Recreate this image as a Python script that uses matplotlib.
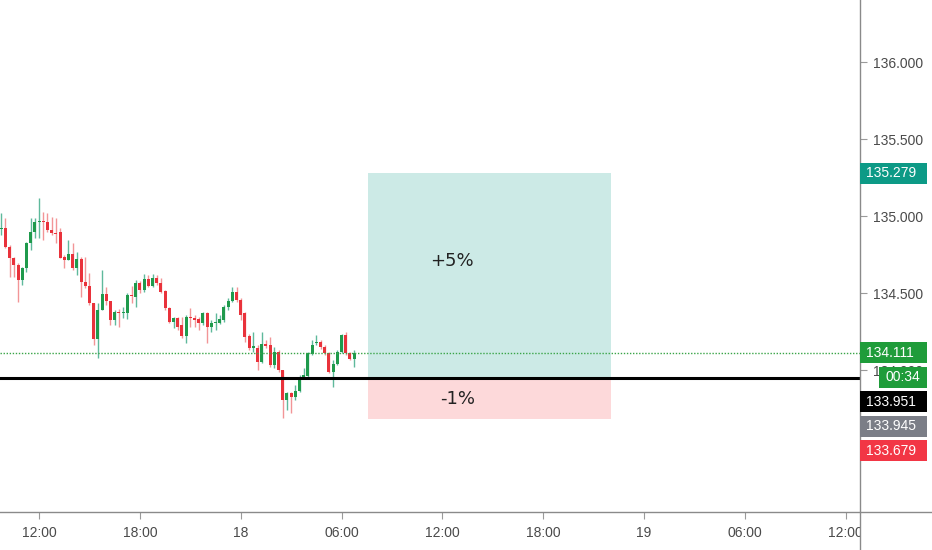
import matplotlib.pyplot as plt
from matplotlib.patches import Rectangle
from matplotlib.lines import Line2D
import numpy as np

plt.rcParams['font.family'] = ['Liberation Sans', 'DejaVu Sans']

# 15 minute bars (price)
opens = [134.915, 134.922, 134.799, 134.727, 134.682, 134.584, 134.662, 134.825, 134.896, 134.961,
         134.968, 134.961, 134.909, 134.890, 134.896, 134.734, 134.714, 134.753, 134.662, 134.721,
         134.571, 134.545, 134.435, 134.201, 134.390, 134.494, 134.448, 134.325, 134.377, 134.370,
         134.370, 134.487, 134.474, 134.565, 134.519, 134.591, 134.545, 134.597, 134.565, 134.513,
         134.403, 134.312, 134.338, 134.292, 134.221, 134.344, 134.338, 134.331, 134.305, 134.370,
         134.279, 134.305, 134.305, 134.325, 134.409, 134.448, 134.506, 134.455, 134.370, 134.221,
         134.143, 134.143, 134.052, 134.169, 134.162, 134.032, 134.117, 134.000, 133.805, 133.851,
         133.825, 133.864, 133.955, 133.961, 134.104, 134.175, 134.182, 134.149, 134.110, 133.987,
         134.039, 134.117, 134.227, 134.110, 134.071]
highs = [135.019, 134.987, 134.812, 134.734, 134.695, 134.669, 134.831, 134.987, 134.987, 135.117,
         135.026, 135.019, 134.994, 134.987, 134.922, 134.747, 134.844, 134.825, 134.766, 134.734,
         134.734, 134.630, 134.435, 134.435, 134.649, 134.539, 134.448, 134.390, 134.396, 134.409,
         134.500, 134.545, 134.584, 134.578, 134.623, 134.617, 134.623, 134.617, 134.597, 134.519,
         134.409, 134.344, 134.344, 134.344, 134.357, 134.403, 134.357, 134.344, 134.377, 134.377,
         134.325, 134.370, 134.357, 134.422, 134.468, 134.539, 134.539, 134.468, 134.377, 134.234,
         134.247, 134.162, 134.247, 134.195, 134.214, 134.149, 134.130, 134.000, 133.857, 133.857,
         133.903, 133.968, 134.013, 134.117, 134.195, 134.227, 134.195, 134.162, 134.117, 134.065,
         134.130, 134.234, 134.247, 134.117, 134.130]
lows = [134.877, 134.792, 134.604, 134.604, 134.442, 134.552, 134.636, 134.779, 134.857, 134.857,
        134.844, 134.896, 134.877, 134.825, 134.727, 134.662, 134.714, 134.649, 134.617, 134.474,
        134.532, 134.422, 134.162, 134.078, 134.390, 134.422, 134.292, 134.292, 134.279, 134.338,
        134.331, 134.435, 134.409, 134.500, 134.506, 134.539, 134.539, 134.552, 134.500, 134.390,
        134.305, 134.273, 134.260, 134.208, 134.175, 134.279, 134.279, 134.260, 134.292, 134.175,
        134.247, 134.260, 134.299, 134.312, 134.390, 134.442, 134.442, 134.325, 134.182, 134.130,
        134.117, 134.000, 134.045, 134.143, 134.019, 134.013, 133.987, 133.688, 133.740, 133.721,
        133.805, 133.857, 133.948, 133.955, 134.097, 134.162, 134.136, 134.097, 133.981, 133.890,
        134.032, 134.110, 134.097, 134.065, 134.019]
closes = [134.925, 134.799, 134.727, 134.682, 134.584, 134.662, 134.825, 134.896, 134.961, 134.968,
          134.961, 134.909, 134.890, 134.883, 134.727, 134.714, 134.753, 134.662, 134.721, 134.571,
          134.545, 134.435, 134.201, 134.390, 134.494, 134.448, 134.325, 134.377, 134.370, 134.377,
          134.487, 134.481, 134.565, 134.519, 134.591, 134.545, 134.597, 134.565, 134.506, 134.403,
          134.312, 134.338, 134.279, 134.221, 134.344, 134.338, 134.325, 134.305, 134.370, 134.279,
          134.305, 134.310, 134.331, 134.409, 134.448, 134.506, 134.455, 134.357, 134.214, 134.143,
          134.156, 134.052, 134.169, 134.156, 134.032, 134.117, 134.000, 133.805, 133.851, 133.825,
          133.864, 133.955, 133.968, 134.110, 134.162, 134.182, 134.149, 134.110, 133.987, 134.039,
          134.117, 134.227, 134.110, 134.071, 134.111]

first_bar = -14.25   # hours from the 18th 00:00
bar_len = 0.25

entry = 133.951
target = 135.279
stop = 133.679
last = 134.111
other = 133.945
box_start, box_end = 7.6, 22.05

xtick_pos = [-12, -6, 0, 6, 12, 18, 24, 30, 36]
xtick_lbl = ['12:00', '18:00', '18', '06:00', '12:00', '18:00', '19', '06:00', '12:00']
ytick_pos = [133.5, 134.0, 134.5, 135.0, 135.5, 136.0]

W, H = 932, 550
fig = plt.figure(figsize=(W / 100, H / 100), dpi=100)
ax = fig.add_axes([0, 38 / H, 859.5 / W, 512 / H])

o = np.array(opens); c = np.array(closes)
hi = np.array(highs); lo = np.array(lows)
t = first_bar + bar_len * np.arange(len(o))
up = c >= o
green, red = '#1f9a4c', '#e9323b'
ax.vlines(t, lo, hi, colors=np.where(up, '#5fb99c', '#f29597'), lw=1, zorder=2)
ax.bar(t, np.maximum(np.abs(c - o), 0.004), bottom=np.minimum(o, c), width=0.18,
       color=np.where(up, green, red), linewidth=0, zorder=3)

# long position tool
ax.add_patch(Rectangle((box_start, entry), box_end - box_start, target - entry,
                       facecolor='#cceae6', edgecolor='none', zorder=1))
ax.add_patch(Rectangle((box_start, stop), box_end - box_start, entry - stop,
                       facecolor='#fdd9da', edgecolor='none', zorder=1))
bw = box_end - box_start
ax.text(box_start + 0.345 * bw, target - 0.43 * (target - entry), '+5%', fontsize=13,
        family='DejaVu Sans', color='#222', ha='center', va='center', zorder=5)
ax.text(box_start + 0.366 * bw, (entry + stop) / 2, '-1%', fontsize=13,
        family='DejaVu Sans', color='#222', ha='center', va='center', zorder=5)

ax.axhline(entry, color='black', lw=2.2, zorder=4)
ax.axhline(last, color='#3aa548', lw=1.0, ls=(0, (1, 1.2)), zorder=4)

ax.set_xlim(-240.7 / 16.8, (859.5 - 240.7) / 16.8)
ax.set_ylim(133.078, 136.403)
for s in ax.spines.values():
    s.set_visible(False)

ax.set_xticks(xtick_pos)
ax.set_xticklabels(xtick_lbl)
ax.yaxis.tick_right()
ax.set_yticks(ytick_pos)
ax.set_yticklabels(['%.3f' % v for v in ytick_pos])
ax.tick_params(axis='x', length=5, width=0.8, color='#9a9a9a', labelcolor='#4a4a4a',
               labelsize=10, pad=5)
ax.tick_params(axis='y', length=5, width=0.8, color='#9a9a9a', labelcolor='#4a4a4a',
               labelsize=10, pad=5)

# hide the cut last time label under the price scale
fig.patches.append(Rectangle((860.5 / W, 0), 1, 37.5 / H, transform=fig.transFigure,
                             facecolor='white', edgecolor='none', zorder=5))
fig.lines.append(Line2D([859.5 / W] * 2, [0, 1], transform=fig.transFigure,
                        color='#8a8a8a', lw=1, zorder=6))
fig.lines.append(Line2D([0, 1], [38 / H] * 2, transform=fig.transFigure,
                        color='#8a8a8a', lw=1, zorder=6))


def price_label(y_mid, text, bg, x0=860, x1=927, h=21):
    fig.patches.append(Rectangle((x0 / W, 1 - (y_mid + h / 2) / H), (x1 - x0) / W, h / H,
                                 transform=fig.transFigure, facecolor=bg,
                                 edgecolor='none', zorder=7))
    fig.text((x0 + 6) / W, 1 - y_mid / H, text, color='white', fontsize=10,
             ha='left', va='center', zorder=8)


def px_from_top(p):
    return H - ax.transData.transform((0, p))[1]


price_label(px_from_top(target), '%.3f' % target, '#0d9a86')

stack = [(last, '%.3f' % last, '#1f9c3a'), (last, '00:34', '#1f9c3a'),
         (entry, '%.3f' % entry, '#000000'), (other, '%.3f' % other, '#7b7e87'),
         (stop, '%.3f' % stop, '#f23645')]
prev = None
for p, txt, col in stack:
    yc = px_from_top(p)
    if prev is not None:
        yc = max(yc, prev + 24.5)
    if txt == '00:34':
        price_label(yc, txt, col, x0=879)
    else:
        price_label(yc, txt, col)
    prev = yc

fig.savefig('out.png', dpi=100)
